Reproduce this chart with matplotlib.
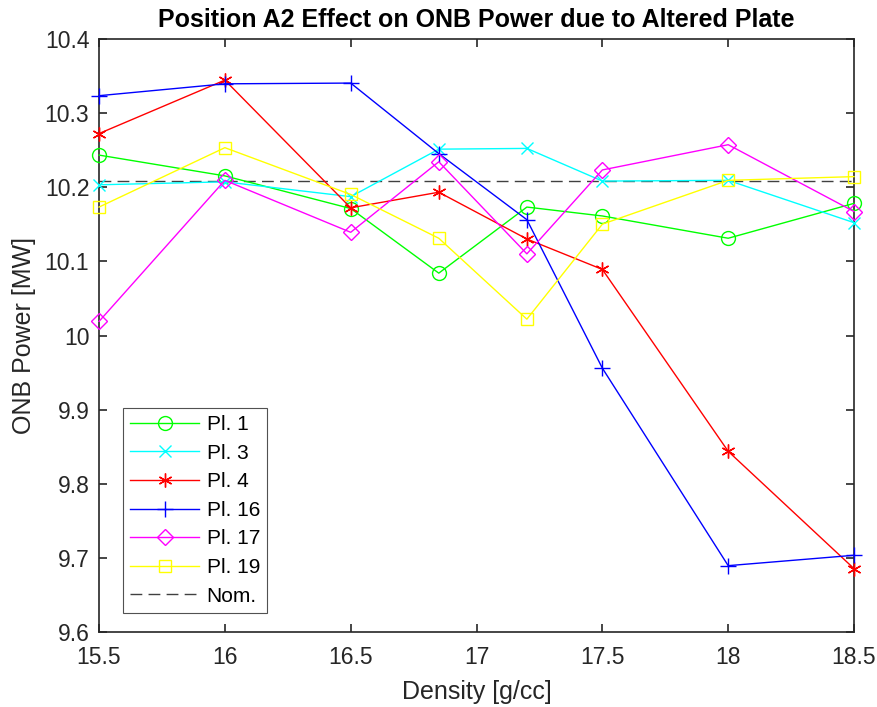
import matplotlib
matplotlib.use("Agg")
import matplotlib.pyplot as plt

plt.rcParams['font.family'] = ['Liberation Sans', 'DejaVu Sans']

density = [15.5, 16.0, 16.5, 16.85, 17.2, 17.5, 18.0, 18.5]
pl1 = [10.243, 10.215, 10.171, 10.084, 10.173, 10.161, 10.131, 10.178]
pl3 = [10.203, 10.207, 10.187, 10.251, 10.252, 10.208, 10.209, 10.152]
pl4 = [10.272, 10.344, 10.172, 10.193, 10.130, 10.089, 9.844, 9.686]
pl16 = [10.323, 10.339, 10.340, 10.245, 10.156, 9.956, 9.690, 9.704]
pl17 = [10.019, 10.209, 10.139, 10.234, 10.110, 10.223, 10.257, 10.167]
pl19 = [10.173, 10.253, 10.190, 10.131, 10.022, 10.150, 10.209, 10.214]
nominal = 10.208

series = [
    ("Pl. 1", pl1, (0, 1, 0), 'o'),
    ("Pl. 3", pl3, (0, 1, 1), 'x'),
    ("Pl. 4", pl4, (1, 0, 0), (6, 2, 0)),
    ("Pl. 16", pl16, (0, 0, 1), '+'),
    ("Pl. 17", pl17, (1, 0, 1), 'D'),
    ("Pl. 19", pl19, (1, 1, 0), 's'),
]

fig = plt.figure(figsize=(8.78, 7.07), dpi=100)
ax = fig.add_axes([0.1128, 0.1054, 0.8599, 0.8401])

for label, vals, col, mk in series:
    ms = 10
    if mk == 'D':
        ms = 8
    elif mk == 's':
        ms = 8.5
    elif mk == 'x':
        ms = 8
    elif mk == '+':
        ms = 11
    ax.plot(density, vals, color=col, marker=mk, markersize=ms,
            markerfacecolor='none', markeredgecolor=col, linewidth=1.0,
            markeredgewidth=1.0, label=label, clip_on=False, zorder=3)

ax.plot([density[0], density[-1]], [nominal, nominal], color=(0.25, 0.25, 0.25),
        linestyle=(0, (8.5, 4.5)), linewidth=1.0, label="Nom.", zorder=2)

ax.set_xlim(15.5, 18.5)
ax.set_ylim(9.6, 10.4)
ax.set_xticks([15.5, 16, 16.5, 17, 17.5, 18, 18.5])
ax.set_xticklabels(['15.5', '16', '16.5', '17', '17.5', '18', '18.5'])
ax.set_yticks([9.6, 9.7, 9.8, 9.9, 10.0, 10.1, 10.2, 10.3, 10.4])
ax.set_yticklabels(['9.6', '9.7', '9.8', '9.9', '10', '10.1', '10.2', '10.3', '10.4'])
ax.tick_params(direction='in', top=True, right=True, labelsize=16.5,
               colors='#262626', length=6, width=1.2)
ax.tick_params(axis='x', pad=10)
ax.tick_params(axis='y', pad=7)
for sp in ax.spines.values():
    sp.set_color('#262626')
    sp.set_linewidth(1.2)

ax.set_xlabel('Density [g/cc]', fontsize=18, color='#262626', labelpad=8)
ax.set_ylabel('ONB Power [MW]', fontsize=18, color='#262626', labelpad=6)
ax.set_title('Position A2 Effect on ONB Power due to Altered Plate',
             fontsize=18, fontweight='bold', color='black', pad=8)

leg = ax.legend(loc='lower left', bbox_to_anchor=(0.032, 0.033), fontsize=15,
                frameon=True, fancybox=False, edgecolor='#262626',
                handlelength=3.3, borderaxespad=0, labelspacing=0.46,
                handletextpad=0.35, borderpad=0.35)
leg.get_frame().set_linewidth(0.8)

fig.savefig('out.png', dpi=100)
